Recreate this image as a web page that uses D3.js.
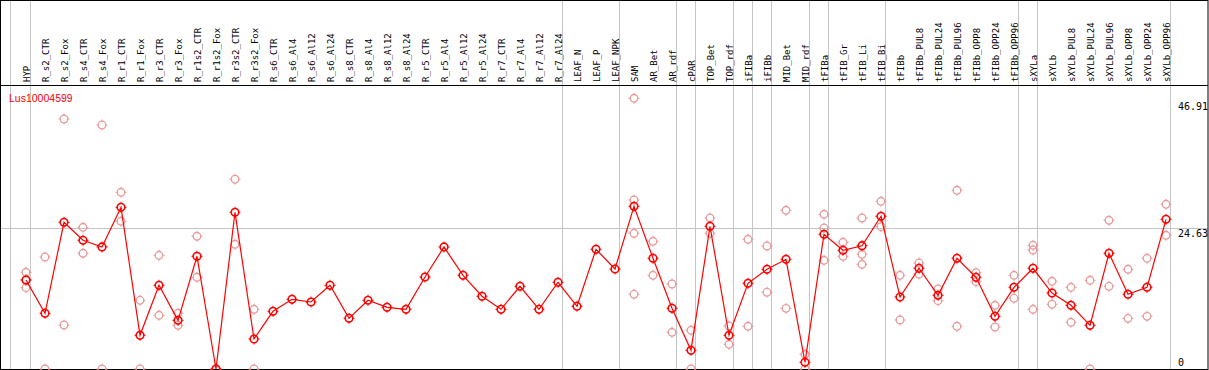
<!DOCTYPE html>
<html>
<head>
<meta charset="utf-8">
<script src="https://cdn.jsdelivr.net/npm/d3@7/dist/d3.min.js"></script>
<style>
  body { margin: 0; background: #fff; }
  svg { display: block; }
</style>
</head>
<body>
<div class="chart"></div>
<script>
const geneName = 'Lus10004599'

const categories = ['HYP', 'R_s2_CTR', 'R_s2_Fox', 'R_s4_CTR', 'R_s4_Fox', 'R_r1_CTR', 'R_r1_Fox',
  'R_r3_CTR', 'R_r3_Fox', 'R_r1s2_CTR', 'R_r1s2_Fox', 'R_r3s2_CTR', 'R_r3s2_Fox', 'R_s6_CTR',
  'R_s6_Al4', 'R_s6_Al12', 'R_s6_Al24', 'R_s8_CTR', 'R_s8_Al4', 'R_s8_Al12', 'R_s8_Al24',
  'R_r5_CTR', 'R_r5_Al4', 'R_r5_Al12', 'R_r5_Al24', 'R_r7_CTR', 'R_r7_Al4', 'R_r7_Al12', 'R_r7_Al24',
  'LEAF_N', 'LEAF_P', 'LEAF_NPK', 'SAM', 'AR_Bet', 'AR_rdf', 'cPAR', 'TOP_Bet', 'TOP_rdf',
  'iFIBa', 'iFIBb', 'MID_Bet', 'MID_rdf', 'tFIBa', 'tFIB_Gr', 'tFIB_Li', 'tFIB_Bi', 'tFIBb',
  'tFIBb_PUL8', 'tFIBb_PUL24', 'tFIBb_PUL96', 'tFIBb_OPP8', 'tFIBb_OPP24', 'tFIBb_OPP96',
  'sXYLa', 'sXYLb', 'sXYLb_PUL8', 'sXYLb_PUL24', 'sXYLb_PUL96', 'sXYLb_OPP8', 'sXYLb_OPP24', 'sXYLb_OPP96']

// mean expression per sample
const means = [15.58, 9.75, 25.68, 22.53, 21.36, 28.30, 5.90,
  14.65, 8.52, 19.73, 0, 27.43, 5.25, 10.10,
  12.20, 11.73, 14.65, 8.87, 12.03, 10.80, 10.45,
  16.10, 21.36, 16.40, 12.73, 10.45, 14.48, 10.45, 15.18,
  10.98, 20.95, 17.50, 28.48, 19.38, 10.62, 3.27, 24.98, 5.90,
  15.00, 17.45, 19.20, 1.17, 23.58, 20.78, 21.58, 26.73, 12.60,
  17.63, 12.90, 19.38, 16.05, 9.22, 14.30,
  17.63, 13.30, 11.15, 7.65, 20.25, 13.08, 14.30, 26.20]

// individual replicates per sample (empty = single sample)
const replicates = [
  [16.93, 15.58, 14.23], [19.60, 0], [43.76, 7.70], [24.80, 20.25], [42.71, 0], [30.93, 25.85], [12.03, 0],
  [19.90, 9.40], [9.75, 7.65], [23.23, 16.05], [0, 0], [33.21, 21.83], [10.45, 0], [],
  [], [], [], [], [], [], [],
  [], [], [], [], [], [], [], [],
  [], [], [], [47.38, 29.58, 23.75, 13.08], [22.35, 16.40], [14.88, 6.42], [6.77, 0], [26.43, 23.75], [7.53, 4.32],
  [22.70, 7.47], [21.53, 13.43], [27.78, 10.62], [2.57, 0], [27.08, 24.68, 19.03], [22.18, 19.73], [26.43, 20.08, 18.33], [29.35, 24.91], [16.40, 8.58],
  [18.55, 16.63], [14.00, 11.96], [31.28, 7.47], [16.86, 15.28], [11.15, 7.35], [16.40, 12.38],
  [21.65, 20.83, 10.45], [15.35, 11.33], [14.30, 8.17], [15.53, 0], [26.03, 14.48], [17.45, 8.87], [19.38, 9.22], [28.83, 23.40]
]

const yTicks = [0, 24.63, 46.91]
const yMax = 46.91

// index of last sample in each group
const groupEnds = [0, 28, 31, 34, 35, 37, 38, 39, 41, 42, 45, 52, 53, 60]

const width = 1209
const height = 370
const headerBottom = 85
const plotBottom = 369
const mainColor = '#ff0000'
const repColor = '#e99a9a'
const gridColor = '#c4c4c4'

const svg = d3.select('.chart')
  .append('svg')
  .attr('width', width)
  .attr('height', height)

const x = d3.scalePoint().domain(categories).range([26, 1166])
const y = d3.scaleLinear().domain([0, yMax]).range([plotBottom, 101])

// gray separators between sample groups
const sepX = [x(categories[0]) - 15.5].concat(groupEnds.map(i => x(categories[i]) + 4.5))
svg.append('g')
  .selectAll('line')
  .data(sepX)
  .enter()
  .append('line')
  .attr('x1', d => d)
  .attr('x2', d => d)
  .attr('y1', 0)
  .attr('y2', plotBottom)
  .attr('stroke', gridColor)
  .attr('stroke-width', 1)

// middle horizontal grid line
svg.append('line')
  .attr('x1', 0)
  .attr('x2', width - 1)
  .attr('y1', Math.round(y(yTicks[1])) + 0.5)
  .attr('y2', Math.round(y(yTicks[1])) + 0.5)
  .attr('stroke', gridColor)

// frame
svg.append('rect')
  .attr('x', 0.5)
  .attr('y', 0.5)
  .attr('width', width - 1.5)
  .attr('height', plotBottom)
  .attr('fill', 'none')
  .attr('stroke', '#000')
svg.append('line')
  .attr('x1', 0)
  .attr('x2', width - 1)
  .attr('y1', headerBottom + 0.5)
  .attr('y2', headerBottom + 0.5)
  .attr('stroke', '#000')

// rotated sample labels in the header
svg.append('g')
  .selectAll('text')
  .data(categories)
  .enter()
  .append('text')
  .attr('transform', d => `translate(${x(d) + 4.3}, 82) rotate(-90)`)
  .attr('font-family', 'DejaVu Sans Mono, monospace')
  .attr('font-size', 9)
  .attr('fill', '#000')
  .text(d => d)

// y labels on the right
svg.append('g')
  .selectAll('text')
  .data(yTicks)
  .enter()
  .append('text')
  .attr('x', 1178)
  .attr('y', d => d === 0 ? y(d) - 3 : y(d) + 9)
  .attr('font-family', 'DejaVu Sans Mono, monospace')
  .attr('font-size', 10)
  .attr('fill', '#000')
  .text(d => d)

svg.append('text')
  .attr('x', 9)
  .attr('y', 102)
  .attr('font-family', 'Liberation Sans, Arial, sans-serif')
  .attr('font-size', 10.5)
  .attr('fill', mainColor)
  .text(geneName)

function drawMarkers (data, color, sw) {
  const g = svg.append('g')
    .selectAll('g')
    .data(data)
    .enter()
    .append('g')
    .attr('transform', d => `translate(${x(d.cat)}, ${y(d.v)})`)
  g.append('circle')
    .attr('r', 3.8)
    .attr('fill', 'none')
    .attr('stroke', color)
    .attr('stroke-width', sw)
  g.append('path')
    .attr('d', 'M0,-5.5V-3.5M0,3.5V5.5M-5.5,0H-3.5M3.5,0H5.5')
    .attr('stroke', color)
    .attr('stroke-width', 1)
}

const repPoints = []
replicates.forEach((reps, i) => {
  reps.forEach(v => repPoints.push({ cat: categories[i], v }))
})
drawMarkers(repPoints, repColor, 1.3)

const line = d3.line()
  .x((d, i) => x(categories[i]))
  .y(d => y(d))
svg.append('path')
  .datum(means)
  .attr('d', line)
  .attr('fill', 'none')
  .attr('stroke', mainColor)
  .attr('stroke-width', 1.2)

drawMarkers(means.map((v, i) => ({ cat: categories[i], v })), mainColor, 1.6)
</script>
</body>
</html>
